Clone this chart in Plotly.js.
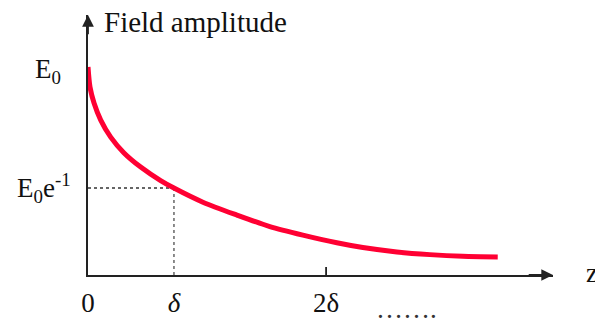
<!DOCTYPE html>
<html>
<head>
<meta charset="utf-8">
<script src="https://cdn.plot.ly/plotly-3.0.1.min.js"></script>
<style>html,body{margin:0;padding:0;background:#fff;}#chart{width:595px;height:323px;}</style>
</head>
<body>
<div id="chart"></div>
<script>
// Curve: z in units of the δ tick spacing, amplitude relative to E0
const curveZ = [0, 0.023, 0.070, 0.148, 0.264, 0.419, 0.613, 0.845, 1.0, 1.337, 1.733, 2.116, 2.5, 2.895, 3.198, 3.593, 3.977, 4.36, 4.767];
const curveE = [1.0, 0.904, 0.827, 0.745, 0.663, 0.587, 0.519, 0.454, 0.418, 0.350, 0.288, 0.233, 0.192, 0.155, 0.132, 0.111, 0.098, 0.090, 0.087];
const deltaZ = 1.0;
const levelE1 = 0.418;
const xTickVals = [0, 1.0, 2.77];
const xTickText = ['0', '<i>δ</i>', '2δ'];
const yLabelVals = [1.0, 0.418];
const yLabelText = ['E<sub>0</sub>', 'E<sub>0</sub>e<sup>-1</sup>'];
const xMax = 5.41, yMax = 1.25;

const serif = 'Liberation Serif, Times New Roman, serif';
const axisColor = '#222';

const traces = [
  {x: [0, deltaZ], y: [levelE1, levelE1], mode: 'lines', line: {color: '#333', width: 1.5, dash: 'dot'}, hoverinfo: 'skip'},
  {x: [deltaZ, deltaZ], y: [levelE1, 0], mode: 'lines', line: {color: '#666', width: 1.5, dash: 'dot'}, hoverinfo: 'skip'},
  {x: curveZ, y: curveE, mode: 'lines', line: {color: '#ff0033', width: 5, shape: 'spline', smoothing: 0.8}, hoverinfo: 'skip', cliponaxis: false}
];

const annotations = [
  {x: xMax, y: 0, ax: xMax - 0.3, ay: 0, xref: 'x', yref: 'y', axref: 'x', ayref: 'y', text: '', showarrow: true, arrowhead: 2, arrowsize: 1.3, arrowwidth: 1.8, arrowcolor: axisColor},
  {x: 0, y: yMax, ax: 0, ay: yMax - 0.1, xref: 'x', yref: 'y', axref: 'x', ayref: 'y', text: '', showarrow: true, arrowhead: 2, arrowsize: 1.3, arrowwidth: 1.8, arrowcolor: axisColor},
  {x: 0, y: yMax, xref: 'x', yref: 'y', xanchor: 'left', yanchor: 'middle', xshift: 14, yshift: -7, text: 'Field amplitude', showarrow: false, font: {family: serif, size: 29, color: '#111'}},
  {x: xMax, y: 0, xref: 'x', yref: 'y', xanchor: 'left', yanchor: 'middle', xshift: 31, yshift: 2, text: 'z', showarrow: false, font: {family: serif, size: 27, color: '#111'}},
  {x: 3.71, y: 0, xref: 'x', yref: 'y', xanchor: 'center', yanchor: 'top', yshift: -17, text: '…….', showarrow: false, font: {family: serif, size: 27, color: '#333'}},
  {x: 0, y: yLabelVals[0], xref: 'x', yref: 'y', xanchor: 'right', yanchor: 'middle', xshift: -25, yshift: -4, text: yLabelText[0], showarrow: false, font: {family: serif, size: 27, color: '#111'}},
  {x: 0, y: yLabelVals[1], xref: 'x', yref: 'y', xanchor: 'right', yanchor: 'middle', xshift: -15, yshift: 0, text: yLabelText[1], showarrow: false, font: {family: serif, size: 27, color: '#111'}}
];

const shapes = [
  {type: 'line', xref: 'x', yref: 'y', x0: xTickVals[1], x1: xTickVals[1], ysizemode: 'pixel', yanchor: 0, y0: 0, y1: -8, line: {color: axisColor, width: 1.8}},
  {type: 'line', xref: 'x', yref: 'y', x0: xTickVals[2], x1: xTickVals[2], ysizemode: 'pixel', yanchor: 0, y0: 8, y1: -8, line: {color: axisColor, width: 1.8}}
];

const layout = {
  width: 595, height: 323,
  margin: {l: 88, r: 42, t: 15, b: 48, pad: 0},
  paper_bgcolor: '#fff', plot_bgcolor: '#fff',
  showlegend: false,
  xaxis: {range: [0, xMax], showgrid: false, zeroline: false, showline: true, linecolor: axisColor, linewidth: 1.8,
          tickmode: 'array', tickvals: xTickVals, ticktext: xTickText, ticks: '', ticklen: 0, ticklabelstandoff: 3,
          tickfont: {family: serif, size: 27, color: '#111'}, fixedrange: true},
  yaxis: {range: [0, yMax], showgrid: false, zeroline: false, showline: true, linecolor: axisColor, linewidth: 1.8,
          showticklabels: false, ticks: '', fixedrange: true},
  annotations: annotations,
  shapes: shapes
};

Plotly.newPlot('chart', traces, layout, {displayModeBar: false, staticPlot: true});
</script>
</body>
</html>
